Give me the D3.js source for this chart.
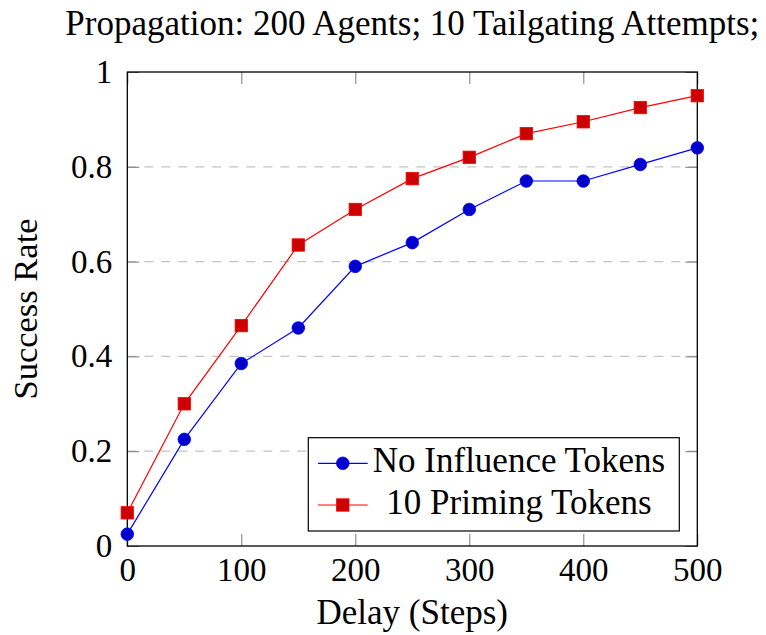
<!DOCTYPE html>
<html>
<head>
<meta charset="utf-8">
<script src="https://cdn.jsdelivr.net/npm/d3@7/dist/d3.min.js"></script>
<style>
  html, body { margin: 0; padding: 0; background: #fff; }
  svg { display: block; }
  text { font-family: "Liberation Serif", "Times New Roman", serif; fill: #000; }
</style>
</head>
<body>
<svg id="chart" width="766" height="635"></svg>
<script>
// Propagation experiment: success rate against delay
const delays = [0, 50, 100, 150, 200, 250, 300, 350, 400, 450, 500];
const noInfluence = [0.025, 0.225, 0.385, 0.46, 0.59, 0.64, 0.71, 0.77, 0.77, 0.805, 0.84];
const priming = [0.07, 0.30, 0.465, 0.635, 0.71, 0.775, 0.82, 0.87, 0.895, 0.925, 0.95];
const xTicks = [0, 100, 200, 300, 400, 500];
const yTicks = [0, 0.2, 0.4, 0.6, 0.8, 1];
const seriesNames = ["No Influence Tokens", "10 Priming Tokens"];
const titleText = "Propagation: 200 Agents; 10 Tailgating Attempts;";

const svg = d3.select("#chart");
const plot = { left: 127.3, right: 697.3, top: 72, bottom: 546 };

const x = d3.scaleLinear().domain([0, 500]).range([plot.left, plot.right]);
const y = d3.scaleLinear().domain([0, 1]).range([plot.bottom, plot.top]);

// horizontal dashed grid
svg.append("g")
  .selectAll("line")
  .data(yTicks.filter(v => v > 0 && v < 1))
  .join("line")
  .attr("x1", plot.left).attr("x2", plot.right)
  .attr("y1", d => y(d)).attr("y2", d => y(d))
  .attr("stroke", "#c4c4c4")
  .attr("stroke-width", 1.3)
  .attr("stroke-dasharray", "9,8");

const tickLen = 12;
function styleAxis(g, keepLabels, fontSize) {
  g.select(".domain").remove();
  g.selectAll(".tick line").attr("stroke", "#7a7a7a").attr("stroke-width", 1);
  if (!keepLabels) g.selectAll(".tick text").remove();
  else g.selectAll(".tick text")
    .attr("font-size", fontSize)
    .attr("font-family", '"Liberation Serif", "Times New Roman", serif')
    .attr("fill", "#000");
}

// axes with inward ticks on all four sides
svg.append("g")
  .attr("transform", `translate(0,${plot.bottom})`)
  .call(d3.axisBottom(x).tickValues(xTicks).tickFormat(d3.format("d"))
    .tickSizeInner(-tickLen).tickSizeOuter(0).tickPadding(12))
  .call(g => styleAxis(g, true, 33));

svg.append("g")
  .attr("transform", `translate(0,${plot.top})`)
  .call(d3.axisTop(x).tickValues(xTicks).tickSizeInner(-tickLen).tickSizeOuter(0))
  .call(g => styleAxis(g, false));

svg.append("g")
  .attr("transform", `translate(${plot.left},0)`)
  .call(d3.axisLeft(y).tickValues(yTicks).tickFormat(d => d3.format("")(+d.toFixed(1)))
    .tickSizeInner(-tickLen).tickSizeOuter(0).tickPadding(15))
  .call(g => styleAxis(g, true, 33));

svg.append("g")
  .attr("transform", `translate(${plot.right},0)`)
  .call(d3.axisRight(y).tickValues(yTicks).tickSizeInner(-tickLen).tickSizeOuter(0))
  .call(g => styleAxis(g, false));

// frame
svg.append("rect")
  .attr("x", plot.left).attr("y", plot.top)
  .attr("width", plot.right - plot.left).attr("height", plot.bottom - plot.top)
  .attr("fill", "none").attr("stroke", "#000").attr("stroke-width", 1.3);

const line = d3.line().x(d => x(d[0])).y(d => y(d[1]));
const blueData = delays.map((d, i) => [d, noInfluence[i]]);
const redData = delays.map((d, i) => [d, priming[i]]);

// No influence series: blue circles
svg.append("path").datum(blueData)
  .attr("d", line).attr("fill", "none").attr("stroke", "#0000ff").attr("stroke-width", 1.2);
// Priming series: red squares
svg.append("path").datum(redData)
  .attr("d", line).attr("fill", "none").attr("stroke", "#ff0000").attr("stroke-width", 1.2);

const markR = 6.3, sq = 12.4;
svg.append("g").selectAll("circle").data(blueData).join("circle")
  .attr("cx", d => x(d[0])).attr("cy", d => y(d[1])).attr("r", markR)
  .attr("fill", "#0000cc").attr("stroke", "#0000ff").attr("stroke-width", 0.8);
svg.append("g").selectAll("rect").data(redData).join("rect")
  .attr("x", d => x(d[0]) - sq / 2).attr("y", d => y(d[1]) - sq / 2)
  .attr("width", sq).attr("height", sq)
  .attr("fill", "#cc0000").attr("stroke", "#ff0000").attr("stroke-width", 0.8);

// title and axis labels
svg.append("text").attr("x", (plot.left + plot.right) / 2).attr("y", 35)
  .attr("text-anchor", "middle").attr("font-size", 35).text(titleText);
svg.append("text").attr("x", (plot.left + plot.right) / 2).attr("y", 624)
  .attr("text-anchor", "middle").attr("font-size", 35).text("Delay (Steps)");
svg.append("text")
  .attr("transform", `translate(36.5,${(plot.top + plot.bottom) / 2}) rotate(-90)`)
  .attr("text-anchor", "middle").attr("font-size", 34.5).text("Success Rate");

// legend
const lg = svg.append("g");
lg.append("rect").attr("x", 308.3).attr("y", 437.7).attr("width", 371).attr("height", 93.3)
  .attr("fill", "#fff").attr("stroke", "#000").attr("stroke-width", 1.2);
const rows = [
  { name: seriesNames[0], color: "#0000ff", fill: "#0000cc", shape: "circle", cy: 463.3 },
  { name: seriesNames[1], color: "#ff0000", fill: "#cc0000", shape: "square", cy: 505 }
];
rows.forEach(r => {
  lg.append("line").attr("x1", 318).attr("x2", 367.7).attr("y1", r.cy).attr("y2", r.cy)
    .attr("stroke", r.color).attr("stroke-width", 1.2);
  if (r.shape === "circle") {
    lg.append("circle").attr("cx", 342.8).attr("cy", r.cy).attr("r", markR)
      .attr("fill", r.fill).attr("stroke", r.color).attr("stroke-width", 0.8);
  } else {
    lg.append("rect").attr("x", 342.8 - sq / 2).attr("y", r.cy - sq / 2)
      .attr("width", sq).attr("height", sq)
      .attr("fill", r.fill).attr("stroke", r.color).attr("stroke-width", 0.8);
  }
  lg.append("text").attr("x", 519).attr("y", r.cy + 9)
    .attr("text-anchor", "middle").attr("font-size", 35).text(r.name);
});
</script>
</body>
</html>
